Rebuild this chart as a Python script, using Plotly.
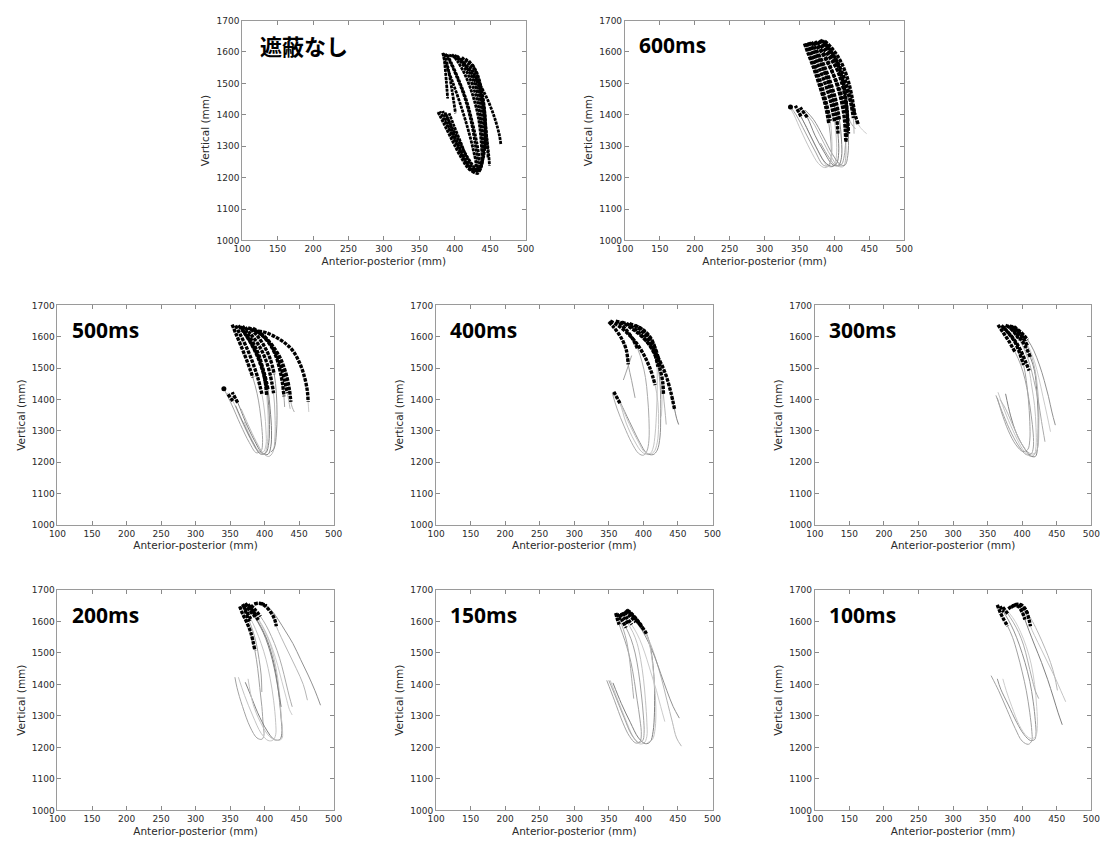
import plotly.graph_objects as go

# Condition shown in each panel
TITLES = ["遮蔽なし", "600ms", "500ms", "400ms", "300ms", "200ms", "150ms", "100ms"]

X_TICKS = [100, 150, 200, 250, 300, 350, 400, 450, 500]
Y_TICKS = [1000, 1100, 1200, 1300, 1400, 1500, 1600, 1700]

# Trajectories (anterior-posterior mm, vertical mm), samples in time order.
# *_HEAD / *_TAIL: count of leading / trailing samples drawn in black
# (None = the whole trajectory).

TRAJ_NONE = [
    [(383,1597),(387,1565),(396,1510),(407,1440),(418,1360),(426,1290),(430,1240),(428,1220),(421,1225),(410,1260),(396,1320),(384,1375),(376,1410)],
    [(389,1592),(395,1566),(405,1515),(416,1450),(425,1375),(432,1300),(435,1240),(433,1214),(426,1218),(415,1255),(402,1315),(390,1370),(383,1412)],
    [(396,1592),(404,1570),(415,1525),(425,1465),(433,1395),(437,1320),(438,1255),(435,1222),(428,1225),(418,1260),(407,1320),(398,1370),(392,1405)],
    [(403,1588),(412,1567),(423,1525),(432,1470),(438,1400),(441,1330),(440,1265),(436,1232),(429,1232),(418,1265),(405,1320),(393,1375),(386,1408)],
    [(410,1583),(419,1562),(429,1522),(437,1465),(442,1400),(443,1330),(441,1270),(437,1240)],
    [(392,1590),(404,1578),(418,1550),(433,1505),(447,1445),(457,1385),(463,1335),(465,1307)],
    [(398,1588),(410,1572),(423,1535),(433,1480),(440,1410),(445,1330),(448,1270),(449,1238)],
    [(384,1596),(386,1560),(388,1510),(390,1452)],
    [(386,1594),(390,1555),(396,1480),(401,1405)],
    [(415,1578),(425,1555),(433,1515),(438,1465),(441,1410),(442,1360)],
    [(387,1594),(393,1570),(403,1520),(414,1455),(423,1380),(429,1305),(432,1248),(430,1222),(423,1226),(412,1262),(399,1322),(387,1377),(379,1411)],
    [(400,1590),(409,1568),(420,1522),(430,1460),(436,1390),(439,1315),(439,1255),(435,1225),(428,1222),(417,1250),(405,1305),(395,1360),(388,1400)],
    [(420,1572),(428,1545),(435,1500),(440,1445),(443,1390),(444,1330),(443,1290)],
    [(425,1560),(432,1530),(438,1480),(442,1420),(444,1360),(446,1300),(447,1262)],
]
HEAD_NONE = [None] * 14
TAIL_NONE = [0] * 14

TRAJ_600 = [
    [(357,1627),(362,1597),(370,1550),(379,1490),(387,1430),(392,1370),(395,1310),(395,1262),(391,1238),(384,1240),(372,1285),(358,1345),(345,1400),(337,1425)],
    [(362,1630),(368,1602),(377,1555),(387,1497),(395,1437),(400,1378),(403,1310),(402,1258),(398,1236),(390,1237),(378,1280),(364,1340),(352,1395),(344,1429)],
    [(367,1632),(374,1606),(384,1562),(394,1505),(402,1445),(407,1385),(410,1320),(410,1265),(406,1240),(398,1240),(385,1282),(372,1335),(361,1392),(351,1423)],
    [(372,1634),(380,1610),(391,1568),(401,1512),(409,1452),(414,1390),(416,1320),(416,1262),(413,1236),(405,1237),(394,1272),(382,1322),(368,1380),(356,1410)],
    [(378,1637),(387,1614),(398,1575),(407,1525),(414,1470),(418,1410),(420,1340),(419,1270),(415,1240),(408,1242),(397,1275),(384,1330),(370,1385),(358,1415)],
    [(375,1632),(385,1608),(397,1570),(409,1522),(419,1470),(427,1415),(434,1370),(440,1352),(446,1340)],
    [(370,1630),(380,1604),(391,1562),(402,1510),(411,1455),(418,1405),(424,1372),(430,1355)],
    [(383,1636),(392,1612),(402,1575),(410,1525),(415,1470),(418,1410),(418,1350),(416,1313),(414,1270),(410,1242),(402,1238),(392,1265),(380,1310)],
    [(360,1628),(366,1595),(374,1545),(382,1490),(389,1430),(394,1381),(396,1330),(396,1270),(393,1240),(386,1232),(377,1245),(365,1290),(352,1350),(342,1400),(336,1424)],
    [(364,1631),(371,1604),(381,1560),(391,1503),(398,1445),(403,1390),(405,1340),(406,1280),(403,1245),(396,1236),(386,1250),(373,1300),(360,1360),(348,1410)],
    [(380,1638),(390,1615),(401,1580),(411,1535),(419,1482),(424,1430),(427,1390),(428,1340)],
    [(386,1635),(395,1615),(405,1585),(414,1545),(421,1497),(426,1445),(429,1400),(431,1370)],
]
HEAD_600 = [6, 6, 6, 7, 7, 7, 6, 8, 6, 7, 7, 7]
TAIL_600 = [1, 2, 2, 0, 0, 0, 0, 0, 0, 0, 0, 0]

TRAJ_500 = [
    [(353,1639),(358,1612),(366,1570),(375,1520),(383,1470),(389,1420),(393,1370),(396,1310),(397,1262),(395,1236),(388,1230),(378,1262),(365,1320),(352,1385),(341,1434)],
    [(358,1636),(364,1610),(373,1570),(382,1522),(390,1470),(396,1418),(400,1360),(402,1300),(402,1255),(398,1232),(390,1236),(378,1280),(365,1340),(354,1395),(346,1420)],
    [(365,1633),(372,1610),(382,1575),(392,1530),(400,1480),(405,1430),(408,1370),(410,1300),(409,1250),(405,1225),(397,1228),(385,1270),(372,1330),(361,1390),(353,1423)],
    [(372,1630),(380,1608),(391,1575),(401,1530),(408,1480),(413,1420),(415,1350),(415,1280),(412,1232),(406,1218),(398,1228),(388,1265),(376,1320),(366,1370)],
    [(380,1625),(389,1604),(399,1572),(408,1530),(414,1480),(417,1420),(418,1350),(417,1290),(414,1245),(409,1232)],
    [(391,1618),(402,1613),(415,1600),(429,1581),(441,1555),(451,1515),(458,1470),(462,1425),(463,1392),(464,1360)],
    [(376,1628),(388,1618),(400,1598),(412,1570),(423,1530),(431,1482),(436,1430),(438,1392),(440,1375),(443,1360)],
    [(385,1622),(396,1605),(407,1578),(416,1540),(422,1495),(426,1450),(428,1410),(429,1376)],
    [(368,1634),(375,1612),(384,1578),(392,1540),(397,1500),(401,1455),(403,1413),(405,1350),(405,1290),(403,1245),(400,1228),(393,1232),(382,1270),(370,1330)],
    [(362,1636),(370,1614),(380,1580),(390,1535),(398,1485),(403,1435),(406,1380),(407,1320),(406,1262),(402,1230),(394,1226),(383,1262),(370,1320),(358,1380)],
    [(383,1627),(394,1612),(405,1588),(415,1552),(423,1510),(429,1460),(433,1420),(435,1395),(437,1370)],
]
HEAD_500 = [5, 6, 6, 6, 5, 9, 8, 7, 7, 6, 7]
TAIL_500 = [1, 2, 2, 0, 0, 0, 0, 0, 0, 0, 0]

TRAJ_400 = [
    [(350,1648),(358,1628),(367,1600),(375,1560),(378,1512),(383,1460),(388,1405)],
    [(352,1650),(362,1638),(375,1615),(388,1585),(400,1545),(410,1497),(417,1446),(421,1390),(422,1320),(420,1262),(415,1232),(407,1224),(398,1232),(387,1268),(375,1325),(366,1388),(357,1425)],
    [(360,1650),(372,1642),(386,1622),(400,1596),(413,1563),(424,1522),(433,1475),(440,1420),(445,1370),(448,1340),(451,1320)],
    [(369,1647),(380,1637),(393,1615),(405,1585),(415,1550),(423,1505),(428,1455),(429,1414),(431,1370),(433,1320)],
    [(380,1642),(390,1632),(400,1612),(409,1585),(416,1550),(421,1505),(424,1455),(425,1400),(425,1340),(424,1280),(420,1238),(414,1224),(405,1228),(395,1262),(383,1315),(370,1375),(362,1412)],
    [(388,1637),(397,1625),(406,1605),(414,1578),(420,1545),(424,1500),(426,1450),(427,1400),(426,1346)],
    [(365,1645),(374,1625),(384,1595),(392,1560),(398,1520),(403,1470),(406,1410),(408,1340),(408,1270),(405,1235),(400,1222),(393,1228),(383,1262),(372,1315),(362,1370),(355,1420)],
    [(383,1540),(377,1500),(371,1462)],
    [(393,1631),(402,1618),(410,1598),(416,1570),(419,1535),(420,1490),(420,1430),(419,1360),(417,1290),(414,1245),(410,1228),(402,1232),(392,1268),(380,1320),(368,1380),(359,1418)],
]
HEAD_400 = [5, 7, 9, 8, 6, 6, 4, 0, 5]
TAIL_400 = [0, 2, 0, 0, 0, 0, 0, 0, 0]

TRAJ_300 = [
    [(365,1638),(372,1615),(381,1585),(390,1550),(398,1510),(404,1465),(409,1410),(413,1350),(416,1290),(416,1245),(413,1226),(406,1224),(397,1245),(385,1290),(373,1350),(362,1413)],
    [(370,1636),(378,1618),(388,1592),(397,1560),(405,1520),(410,1492),(414,1440),(418,1380),(420,1310),(420,1250),(417,1222),(410,1220),(401,1240),(390,1285),(377,1350),(365,1423)],
    [(376,1637),(385,1625),(395,1600),(404,1572),(412,1534),(418,1490),(421,1430),(423,1360),(423,1290),(422,1240),(419,1218),(412,1220),(403,1245),(392,1290),(383,1350),(376,1418)],
    [(382,1635),(391,1622),(400,1600),(408,1570),(414,1535),(419,1490),(422,1440),(424,1380),(424,1310),(423,1255),(419,1228),(411,1228),(400,1255),(388,1310),(376,1370),(368,1400)],
    [(388,1632),(398,1615),(408,1590),(417,1555),(425,1510),(432,1460),(438,1410),(443,1360),(448,1318)],
    [(384,1634),(394,1618),(403,1592),(411,1560),(418,1520),(424,1470),(430,1410),(436,1350),(441,1297)],
    [(378,1636),(387,1618),(396,1590),(404,1555),(411,1512),(417,1460),(423,1400),(428,1330),(433,1265)],
    [(372,1632),(380,1612),(389,1585),(396,1550),(402,1510),(406,1460),(409,1400),(411,1330),(411,1270),(408,1240),(401,1234),(391,1255),(380,1300),(370,1360),(364,1405)],
]
HEAD_300 = [4, 6, 5, 4, 3, 3, 3, 5]
TAIL_300 = [0] * 8

TRAJ_200 = [
    [(364,1648),(368,1625),(374,1598),(380,1565),(386,1507),(390,1450),(393,1390),(396,1330),(398,1270),(399,1238),(396,1226),(389,1230),(379,1265),(368,1330),(360,1390),(357,1423)],
    [(368,1655),(373,1635),(380,1608),(387,1575),(395,1530),(402,1480),(408,1420),(413,1350),(416,1280),(416,1240),(412,1223),(405,1222),(395,1245),(383,1300),(371,1365),(362,1423)],
    [(372,1658),(378,1640),(386,1615),(395,1582),(404,1540),(411,1490),(417,1430),(421,1360),(424,1290),(425,1245),(422,1225),(414,1225),(403,1255),(390,1310),(379,1370),(372,1407)],
    [(385,1655),(391,1658),(399,1652),(407,1635),(414,1610),(417,1585),(424,1550),(435,1500),(446,1450),(456,1400),(462,1350)],
    [(395,1658),(403,1650),(412,1630),(420,1605),(430,1570),(441,1530),(452,1480),(463,1430),(473,1380),(481,1334)],
    [(376,1655),(381,1640),(388,1618),(396,1590),(404,1555),(412,1510),(419,1460),(425,1410),(431,1360),(436,1320),(440,1303)],
    [(380,1652),(386,1638),(394,1616),(402,1588),(410,1552),(418,1508),(425,1458),(431,1405),(436,1360),(440,1329)],
    [(370,1650),(373,1628),(378,1600),(383,1570),(388,1530),(392,1480),(395,1430),(396,1376)],
    [(378,1650),(383,1632),(391,1605),(400,1570),(408,1530),(414,1480),(419,1420),(422,1360),(424,1300),(426,1252),(425,1228),(418,1222),(407,1235),(394,1280),(383,1340),(376,1418)],
    [(375,1645),(382,1625),(390,1598),(398,1565),(405,1525),(411,1480),(416,1430),(420,1380),(424,1329)],
]
HEAD_200 = [5, 3, 3, 6, 2, 3, 3, 3, 3, 2]
TAIL_200 = [0] * 10

TRAJ_150 = [
    [(360,1627),(362,1610),(365,1590),(370,1560),(376,1520),(382,1470),(387,1410),(391,1350),(395,1290),(397,1240),(395,1218),(389,1214),(380,1235),(370,1280),(358,1350),(347,1413)],
    [(368,1628),(372,1612),(378,1592),(385,1565),(391,1530),(396,1480),(400,1420),(403,1350),(405,1280),(405,1235),(401,1214),(394,1212),(385,1235),(374,1290),(363,1350),(352,1413)],
    [(374,1635),(380,1625),(388,1608),(396,1588),(402,1570),(405,1559),(410,1520),(414,1460),(416,1390),(416,1310),(414,1250),(410,1218),(403,1212),(393,1230),(381,1280),(368,1340),(356,1405)],
    [(376,1637),(383,1625),(390,1607),(397,1588),(403,1565),(410,1530),(418,1480),(426,1420),(434,1350),(442,1280),(448,1230),(455,1204)],
    [(372,1630),(380,1618),(389,1598),(398,1572),(407,1535),(416,1490),(425,1435),(434,1380),(443,1330),(452,1293)],
    [(370,1628),(376,1612),(383,1590),(391,1560),(398,1525),(405,1480),(412,1430),(419,1380),(425,1330),(431,1282)],
    [(362,1625),(366,1605),(371,1575),(376,1535),(380,1480),(383,1420),(386,1355)],
    [(365,1623),(369,1605),(375,1580),(382,1545),(388,1500),(393,1440),(397,1370),(400,1300),(401,1245),(399,1222),(393,1216),(383,1240),(372,1295),(360,1360),(350,1413)],
    [(378,1632),(384,1620),(391,1602),(398,1582),(404,1560),(409,1525),(413,1470),(416,1400),(418,1330),(417,1260),(413,1225),(406,1215)],
]
HEAD_150 = [3, 3, 6, 4, 3, 3, 2, 3, 4]
TAIL_150 = [0] * 9

TRAJ_100 = [
    [(364,1653),(368,1630),(373,1608),(379,1585),(386,1550),(393,1500),(400,1440),(406,1380),(411,1310),(414,1250),(414,1222),(409,1210),(400,1220),(390,1260),(378,1320),(366,1380),(355,1428)],
    [(384,1645),(391,1654),(399,1652),(405,1638),(410,1605),(412,1585),(418,1555),(428,1510),(438,1465),(448,1420),(456,1380),(463,1345)],
    [(380,1640),(387,1650),(394,1648),(400,1630),(404,1606),(410,1570),(418,1525),(428,1470),(437,1415),(445,1360),(452,1310),(458,1272)],
    [(388,1652),(395,1652),(402,1642),(408,1625),(415,1600),(424,1560),(433,1515),(441,1470),(447,1425),(451,1381)],
    [(368,1648),(373,1630),(380,1605),(388,1570),(396,1525),(404,1470),(411,1410),(416,1345),(419,1285),(420,1242),(418,1225),(412,1222),(403,1240),(392,1280),(380,1335),(369,1385),(364,1418)],
    [(376,1640),(382,1625),(390,1600),(398,1565),(406,1520),(413,1465),(418,1400),(421,1330),(422,1270),(420,1238),(415,1228),(407,1235),(396,1270),(385,1330),(377,1380),(372,1418)],
    [(372,1645),(379,1625),(387,1598),(395,1565),(402,1525),(408,1475),(414,1420),(419,1380),(424,1355)],
]
HEAD_100 = [4, 6, 5, 4, 2, 0, 2]
TAIL_100 = [0] * 7

PANELS = [
    (TRAJ_NONE, HEAD_NONE, TAIL_NONE),
    (TRAJ_600, HEAD_600, TAIL_600),
    (TRAJ_500, HEAD_500, TAIL_500),
    (TRAJ_400, HEAD_400, TAIL_400),
    (TRAJ_300, HEAD_300, TAIL_300),
    (TRAJ_200, HEAD_200, TAIL_200),
    (TRAJ_150, HEAD_150, TAIL_150),
    (TRAJ_100, HEAD_100, TAIL_100),
]

# Plot-area placement of the eight panels (paper fractions)
DOMAINS = [
    ([0.2116, 0.4688], [0.7190, 0.9814]),
    ([0.5589, 0.8125], [0.7190, 0.9814]),
    ([0.0440, 0.2946], [0.3797, 0.6415]),
    ([0.3875, 0.6384], [0.3797, 0.6415]),
    ([0.7313, 0.9821], [0.3797, 0.6415]),
    ([0.0440, 0.2946], [0.0389, 0.3019]),
    ([0.3875, 0.6384], [0.0389, 0.3019]),
    ([0.7313, 0.9821], [0.0389, 0.3019]),
]

GRAYS = ["#a2a2a2", "#c4c4c4", "#808080", "#b6b6b6", "#929292", "#cccccc", "#ababab"]
TICK_FONT = dict(family="DejaVu Sans, Noto Sans CJK JP", size=9, color="#2a2a2a")
TITLE_FONT = dict(family="DejaVu Sans, Noto Sans CJK JP", size=10.5, color="#2a2a2a")

fig = go.Figure()


def axis_ids(k):
    return ("x", "y") if k == 1 else (f"x{k}", f"y{k}")


# gray: full paths
for k, (trajs, heads, tails) in enumerate(PANELS, start=1):
    xa, ya = axis_ids(k)
    for i, pts in enumerate(trajs):
        fig.add_trace(go.Scatter(
            x=[p[0] for p in pts], y=[p[1] for p in pts], mode="lines",
            line=dict(color=GRAYS[i % len(GRAYS)], width=1, shape="spline", smoothing=1.0),
            xaxis=xa, yaxis=ya, hoverinfo="skip", showlegend=False))

# black: marked portions on top, drawn as dense dots
for k, (trajs, heads, tails) in enumerate(PANELS, start=1):
    xa, ya = axis_ids(k)
    width = 2.8 if k == 1 else 3.4
    dash = "3px,1px" if k == 1 else "3.5px,1.2px"
    for i, pts in enumerate(trajs):
        h, t = heads[i], tails[i]
        segs = []
        if h is None:
            segs.append(pts)
        else:
            if h:
                segs.append(pts[:h])
            if t:
                segs.append(pts[-t:])
        for seg in segs:
            xs = [p[0] for p in seg]
            ys = [p[1] for p in seg]
            if len(seg) == 1:
                fig.add_trace(go.Scatter(
                    x=xs, y=ys, mode="markers",
                    marker=dict(color="black", size=5),
                    xaxis=xa, yaxis=ya, hoverinfo="skip", showlegend=False))
            else:
                fig.add_trace(go.Scatter(
                    x=xs, y=ys, mode="lines",
                    line=dict(color="black", width=width, shape="spline", smoothing=1.0, dash=dash),
                    xaxis=xa, yaxis=ya, hoverinfo="skip", showlegend=False))

layout = dict(
    width=1120, height=848, autosize=False,
    margin=dict(l=0, r=0, t=0, b=0),
    paper_bgcolor="white", plot_bgcolor="white",
    showlegend=False,
)
annotations = []
for k, (xd, yd) in enumerate(DOMAINS, start=1):
    xa, ya = axis_ids(k)
    xkey = "xaxis" if k == 1 else f"xaxis{k}"
    ykey = "yaxis" if k == 1 else f"yaxis{k}"
    layout[xkey] = dict(
        domain=xd, anchor=ya, range=[100, 500], tickvals=X_TICKS,
        ticks="inside", ticklen=4, tickcolor="#8a8a8a", mirror="ticks",
        showline=True, linecolor="#9a9a9a", linewidth=1, showgrid=False, zeroline=False,
        tickfont=TICK_FONT,
        title=dict(text="Anterior-posterior (mm)", font=TITLE_FONT, standoff=4),
    )
    layout[ykey] = dict(
        domain=yd, anchor=xa, range=[1000, 1700], tickvals=Y_TICKS,
        ticks="inside", ticklen=4, tickcolor="#8a8a8a", mirror="ticks",
        showline=True, linecolor="#9a9a9a", linewidth=1, showgrid=False, zeroline=False,
        tickfont=TICK_FONT,
        title=dict(text="Vertical (mm)", font=TITLE_FONT, standoff=4),
    )
    is_cjk = k == 1
    annotations.append(dict(
        text=f"<b>{TITLES[k - 1]}</b>", xref=xa, yref=ya,
        x=122 if is_cjk else 118, y=1622, xanchor="left", yanchor="middle",
        showarrow=False,
        font=dict(family="Noto Sans CJK JP" if is_cjk else "Open Sans, Lato",
                  size=22 if is_cjk else 21, color="black"),
    ))
layout["annotations"] = annotations
fig.update_layout(**layout)

fig.write_html("out.html")
